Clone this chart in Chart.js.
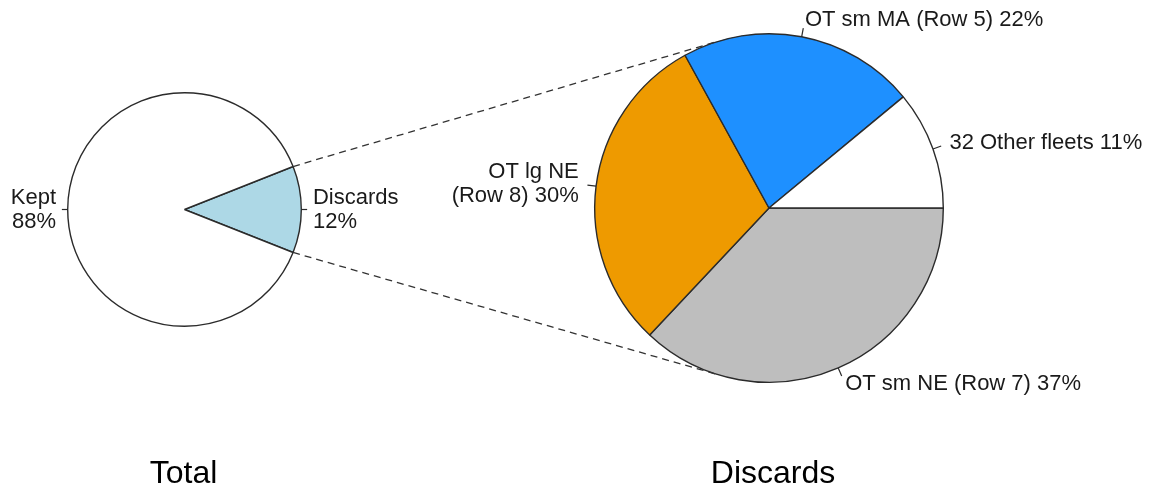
<!DOCTYPE html>
<html>
<head>
<meta charset="utf-8">
<script src="https://cdn.jsdelivr.net/npm/chart.js@4"></script>
<style>
  html, body { margin: 0; padding: 0; background: #fff; }
  #wrap { position: relative; width: 1162px; height: 489px; }
  #wrap canvas { position: absolute; left: 0; top: 0; }
</style>
</head>
<body>
<div id="wrap">
  <canvas id="totalCanvas" width="1162" height="489"></canvas>
  <canvas id="discardCanvas" width="1162" height="489"></canvas>
</div>
<script>
// Total pie (Discards slice first, centred on 3 o'clock)
const totalLabels = ["Discards\n", "Kept\n"];
const totalValues = [12, 88];
const totalColors = ["#add8e6", "#ffffff"];

// Discards pie, slices listed clockwise from 3 o'clock
const discardLabels = ["OT sm NE (Row 7) ", "OT lg NE\n(Row 8) ", "OT sm MA (Row 5) ", "32 Other fleets "];
const discardValues = [37, 30, 22, 11];
const discardColors = ["#bebebe", "#ee9a00", "#1e90ff", "#ffffff"];

const FONT = "'Liberation Sans', Arial, sans-serif";
const EDGE = "#2b2b2b";
const LINK_ANGLE = 107 * Math.PI / 180;

function sum(a) { return a.reduce((s, v) => s + v, 0); }

// R style labels: tick from r to 1.05r, text at 1.1r, plus title below
function sliceLabels(labels, values, title, titleShift) {
    return {
        id: "sliceLabels",
        afterDraw(chart) {
            const ctx = chart.ctx;
            const total = sum(values);
            const arcs = chart.getDatasetMeta(0).data;
            ctx.save();
            ctx.strokeStyle = EDGE;
            ctx.lineWidth = 1.2;
            ctx.fillStyle = "#1a1a1a";
            ctx.font = "22px " + FONT;
            ctx.textBaseline = "middle";
            arcs.forEach((arc, i) => {
                const mid = (arc.startAngle + arc.endAngle) / 2;
                const r = arc.outerRadius;
                const cos = Math.cos(mid), sin = Math.sin(mid);
                ctx.beginPath();
                ctx.moveTo(arc.x + r * cos, arc.y + r * sin);
                ctx.lineTo(arc.x + 1.05 * r * cos, arc.y + 1.05 * r * sin);
                ctx.stroke();
                const pct = Math.round(values[i] / total * 100);
                const lines = (labels[i] + pct + "%").split("\n");
                ctx.textAlign = cos < -0.01 ? "right" : "left";
                const lx = arc.x + 1.1 * r * cos;
                const ly = arc.y + 1.1 * r * sin;
                lines.forEach((t, k) => {
                    ctx.fillText(t, lx, ly + (k - (lines.length - 1) / 2) * 24);
                });
            });
            // title under the pie
            ctx.font = "32px " + FONT;
            ctx.textAlign = "center";
            ctx.textBaseline = "alphabetic";
            ctx.fillStyle = "#000";
            ctx.fillText(title, arcs[0].x + titleShift, 483);
            ctx.restore();
        }
    };
}

function pieOptions(rotation, padding) {
    return {
        responsive: false,
        animation: false,
        events: [],
        rotation: rotation,
        layout: { padding: padding },
        plugins: {
            legend: { display: false },
            tooltip: { enabled: false }
        }
    };
}

const totalChart = new Chart(document.getElementById("totalCanvas"), {
    type: "pie",
    data: {
        labels: totalLabels,
        datasets: [{
            data: totalValues,
            backgroundColor: totalColors,
            borderColor: EDGE,
            borderWidth: 1.4,
            hoverOffset: 0
        }]
    },
    options: pieOptions(90 - 180 * totalValues[0] / sum(totalValues),
        { left: 67, right: 860, top: 92, bottom: 162 }),
    plugins: [sliceLabels(totalLabels, totalValues, "Total", -1)]
});

// dashed lines joining the Discards slice to the second pie
const linkLines = {
    id: "linkLines",
    afterDraw(chart) {
        const a = totalChart.getDatasetMeta(0).data[0];
        const b = chart.getDatasetMeta(0).data[0];
        const ctx = chart.ctx;
        ctx.save();
        ctx.strokeStyle = "#333";
        ctx.lineWidth = 1.3;
        ctx.setLineDash([7, 5]);
        [[a.startAngle, -LINK_ANGLE], [a.endAngle, LINK_ANGLE]].forEach(([from, to]) => {
            ctx.beginPath();
            ctx.moveTo(a.x + a.outerRadius * Math.cos(from), a.y + a.outerRadius * Math.sin(from));
            ctx.lineTo(b.x + b.outerRadius * Math.cos(to), b.y + b.outerRadius * Math.sin(to));
            ctx.stroke();
        });
        ctx.restore();
    }
};

const discardChart = new Chart(document.getElementById("discardCanvas"), {
    type: "pie",
    data: {
        labels: discardLabels,
        datasets: [{
            data: discardValues,
            backgroundColor: discardColors,
            borderColor: EDGE,
            borderWidth: 1.4,
            hoverOffset: 0
        }]
    },
    options: pieOptions(90, { left: 594, right: 218, top: 33, bottom: 106 }),
    plugins: [linkLines, sliceLabels(discardLabels, discardValues, "Discards", 4)]
});
</script>
</body>
</html>
